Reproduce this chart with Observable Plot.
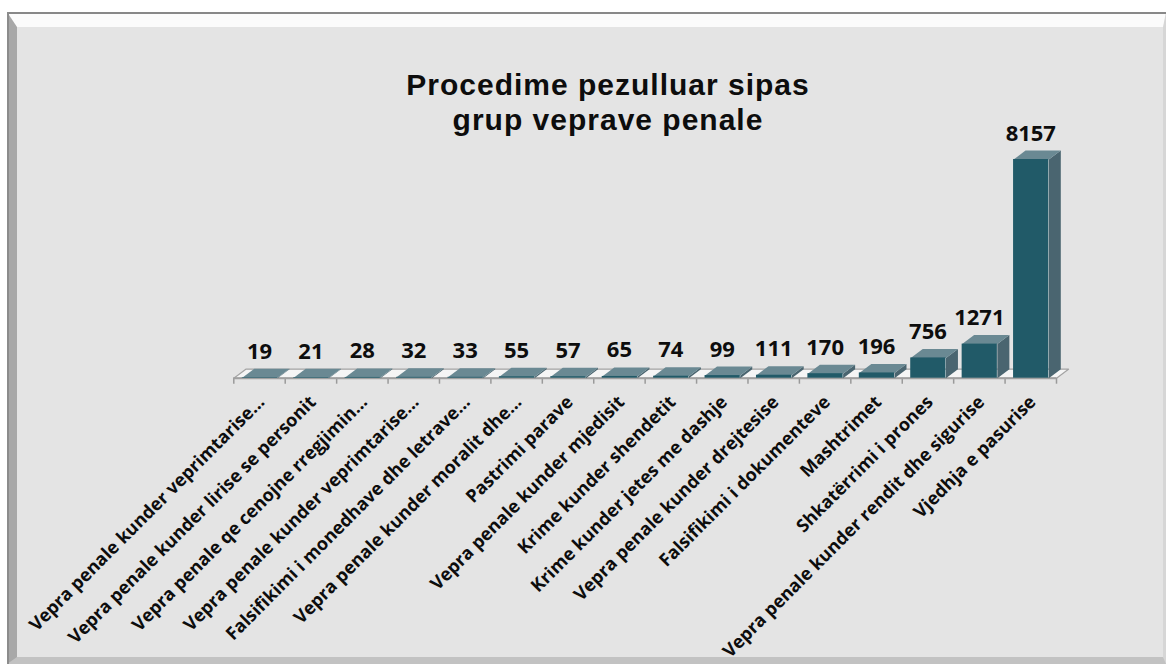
<!DOCTYPE html>
<html>
<head>
<meta charset="utf-8">
<script src="https://cdn.jsdelivr.net/npm/d3@7"></script>
<script src="https://cdn.jsdelivr.net/npm/@observablehq/plot@0.6"></script>
<style>
  html, body { margin: 0; padding: 0; background: #ffffff; width: 1166px; height: 666px; overflow: hidden; }
  #frame { position: absolute; left: 7px; top: 12px; width: 1159px; height: 652px; box-sizing: border-box;
    background: #e4e4e4; border-style: solid; border-width: 15px 3px 7px 10px;
    border-color: #fbfbfb #d6d6d6 #c2c2c2 #a8a8a8; }
  #frameline { position: absolute; left: 7px; top: 12px; width: 1159px; height: 2px; background: #888888; }
  #frameleft { position: absolute; left: 7px; top: 12px; width: 2px; height: 652px; background: #8c8c8c; }
  .title { position: absolute; left: 308px; width: 600px; height: 34px; overflow: visible; text-align: center;
    font-family: "Liberation Sans", Arial, sans-serif; font-weight: 700; font-size: 30px; line-height: 34px;
    letter-spacing: 1px; color: #0d0d0d; }
  #chart { position: absolute; left: 0; top: 0; }
</style>
</head>
<body>
<div id="frame"></div>
<div id="frameline"></div>
<div id="frameleft"></div>
<div id="chart"></div>
<div class="title" style="top:68px">Procedime pezulluar sipas</div>
<div class="title" style="top:103px">grup veprave penale</div>
<script>
// ---- data ----
const categories = [
  "Vepra penale kunder veprimtarise…",
  "Vepra penale kunder lirise se personit",
  "Vepra penale qe cenojne rregjimin…",
  "Vepra penale kunder veprimtarise…",
  "Falsifikimi i monedhave dhe letrave…",
  "Vepra penale kunder moralit dhe…",
  "Pastrimi parave",
  "Vepra penale kunder mjedisit",
  "Krime kunder shendetit",
  "Krime kunder jetes me dashje",
  "Vepra penale kunder drejtesise",
  "Falsifikimi i dokumenteve",
  "Mashtrimet",
  "Shkatërrimi i prones",
  "Vepra penale kunder rendit dhe sigurise",
  "Vjedhja e pasurise"
];
const values = [19, 21, 28, 32, 33, 55, 57, 65, 74, 99, 111, 170, 196, 756, 1271, 8157];

// ---- layout ----
const W = 1166, H = 666;
const n = categories.length;
const vmax = d3.max(values);
const xRange = [233.3, 1056], yRange = [377.7, 159];
const bandPx = (xRange[1] - xRange[0]) / n;
const unitPxY = (yRange[0] - yRange[1]) / vmax;
const depthX = 12 / bandPx;        // depth offset in x units
const depthY = 9 / unitPxY;        // depth offset in y units
const tickLen = 6 / unitPxY;
const padL = 0.165, padR = 0.85;
const font = "'Open Sans', Lato, sans-serif";

const rows = categories.map((c, i) => ({i, c, v: values[i]}));

const floor = [
  {x: 0, y: 0}, {x: n, y: 0}, {x: n + depthX, y: depthY}, {x: depthX, y: depthY}
];
const tops = rows.flatMap(d => {
  const a = d.i + padL, b = d.i + padR;
  return [
    {i: d.i, x: a, y: d.v}, {i: d.i, x: b, y: d.v},
    {i: d.i, x: b + depthX, y: d.v + depthY}, {i: d.i, x: a + depthX, y: d.v + depthY}
  ];
});
const sides = rows.flatMap(d => {
  const b = d.i + padR;
  return [
    {i: d.i, x: b, y: 0}, {i: d.i, x: b, y: d.v},
    {i: d.i, x: b + depthX, y: d.v + depthY}, {i: d.i, x: b + depthX, y: depthY}
  ];
});

const chart = Plot.plot({
  width: W, height: H,
  margin: 0,
  style: {background: "transparent", fontFamily: font, color: "#0d0d0d"},
  x: {type: "linear", domain: [0, n], range: xRange, axis: null},
  y: {type: "linear", domain: [0, vmax], range: yRange, axis: null},
  marks: [
    Plot.line(floor, {x: "x", y: "y", fill: "#f5f5f5", stroke: "#a3a3a3", strokeWidth: 1.2, curve: "linear-closed"}),
    Plot.ruleX(d3.range(n + 1), {y1: 0, y2: -tickLen, stroke: "#9a9a9a", strokeWidth: 1.5}),
    Plot.ruleY([0], {x1: 0, x2: n, stroke: "#a0a0a0", strokeWidth: 2}),
    Plot.line(sides, {x: "x", y: "y", z: "i", fill: "#4a6570", stroke: "none", curve: "linear-closed"}),
    Plot.line(tops, {x: "x", y: "y", z: "i", fill: "#6a8993", stroke: "none", curve: "linear-closed"}),
    Plot.rect(rows, {x1: d => d.i + padL, x2: d => d.i + padR, y1: 0, y2: "v", fill: "#215a68"}),
    Plot.text(rows, {x: d => d.i + 0.5, y: d => d.v + depthY, text: d => String(d.v),
      dy: -10, lineAnchor: "bottom", fontSize: 22, fontWeight: "bold", fill: "#0d0d0d"}),
    Plot.text(rows, {x: d => d.i + 0.5, y: 0, text: "c", rotate: -45, textAnchor: "end", lineAnchor: "top",
      dx: -3, dy: 16, fontSize: 18, fontWeight: "bold", fill: "#0d0d0d"})
  ]
});
document.getElementById("chart").appendChild(chart);
</script>
</body>
</html>
